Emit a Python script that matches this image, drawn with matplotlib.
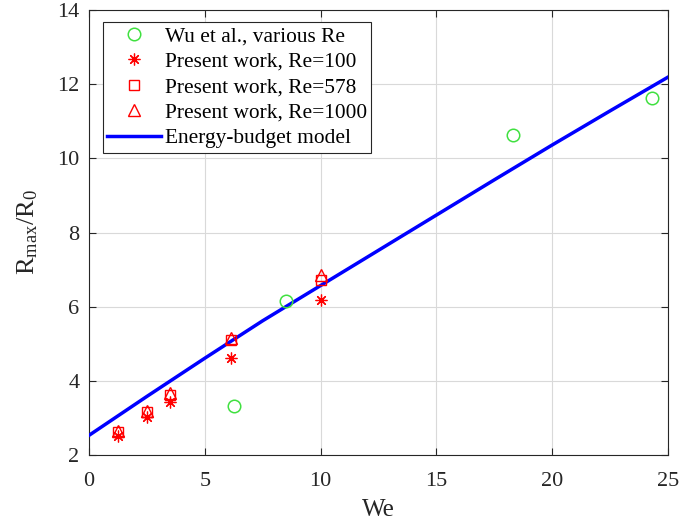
import matplotlib
matplotlib.use("Agg")
import matplotlib.pyplot as plt

# Data
wu_we = [6.25, 8.5, 18.3, 24.3]
wu_r = [3.32, 6.15, 10.62, 11.62]

we_pw = [1.25, 2.5, 3.5, 6.15, 10.0]
r_re100 = [2.52, 3.02, 3.43, 4.62, 6.17]
r_re578 = [2.63, 3.15, 3.62, 5.11, 6.72]
r_re1000 = [2.66, 3.19, 3.67, 5.16, 6.85]

model_we = [0, 2.5, 5, 7.5, 10, 12.5, 15, 17.5, 20, 22.5, 25]
model_r = [2.53, 3.58, 4.61, 5.62, 6.57, 7.52, 8.47, 9.42, 10.36, 11.28, 12.19]

xticks = [0, 5, 10, 15, 20, 25]
yticks = [2, 4, 6, 8, 10, 12, 14]

plt.rcParams['font.family'] = ['Liberation Serif', 'DejaVu Serif']
plt.rcParams['mathtext.fontset'] = 'custom'
plt.rcParams['mathtext.rm'] = 'Liberation Serif'
plt.rcParams['mathtext.it'] = 'Liberation Serif'

fig = plt.figure(figsize=(6.8, 5.29), dpi=100)
ax = fig.add_axes([89/680, 1-455/529, (668-89)/680, (455-10)/529])

green = '#40e040'
red = '#ff0000'
ax.plot(wu_we, wu_r, 'o', mfc='none', mec=green, ms=9, mew=1.1, label='Wu et al., various Re', zorder=4)
ax.plot(we_pw, r_re100, linestyle='none', marker=(8, 2, 0), color=red, ms=8.5, mew=0.9,
        label='Present work, Re=100', zorder=4)
ax.plot(we_pw, r_re578, 's', mfc='none', mec=red, ms=6.5, mew=1.0, label='Present work, Re=578', zorder=4)
ax.plot(we_pw, r_re1000, '^', mfc='none', mec=red, ms=8, mew=1.0, label='Present work, Re=1000', zorder=4)
ax.plot(model_we, model_r, '-', color='#0000ff', lw=2.5, label='Energy-budget model', zorder=3)

ax.set_xlim(0, 25)
ax.set_ylim(2, 14)
ax.set_xticks(xticks)
ax.set_yticks(yticks)
ax.grid(True, color='#d9d9d9', lw=0.8)
ax.set_axisbelow(True)
ax.tick_params(direction='in', length=5, width=0.8, labelsize=16, colors='#262626',
               top=True, right=True)
ax.tick_params(axis='x', pad=12)
ax.tick_params(axis='y', pad=7)
for s in ax.spines.values():
    s.set_color('#262626')
    s.set_linewidth(0.8)

ax.set_xlabel('We', fontsize=18, color='#262626', labelpad=6)
ax.set_ylabel(r'R$_{\mathrm{max}}$/R$_0$', fontsize=19, color='#262626', labelpad=12)

leg = ax.legend(loc='upper left', bbox_to_anchor=(14/579, 1 - 12/445), fontsize=15.4,
                frameon=True, fancybox=False, edgecolor='#262626', framealpha=1,
                borderpad=0.2, labelspacing=0.26, handlelength=2.5, handletextpad=0.2,
                borderaxespad=0.0)
leg.get_frame().set_linewidth(0.8)

fig.savefig('out.png', dpi=100)
